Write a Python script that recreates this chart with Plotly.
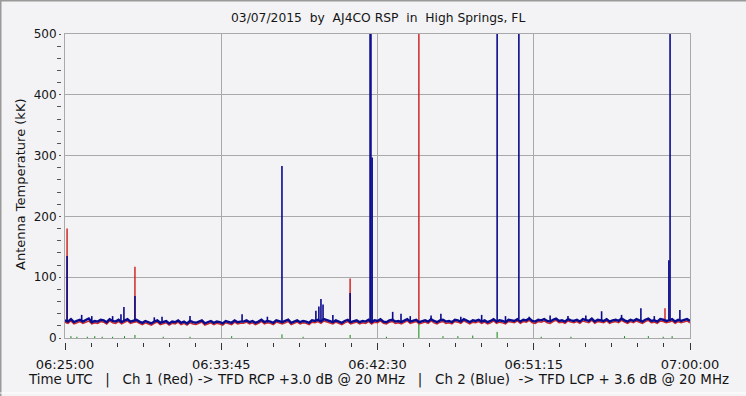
import plotly.graph_objects as go

# ---------------- data (seconds after 06:25:00 UTC) ----------------
tick_vals = [0, 525, 1050, 1575, 2100]
tick_text = ["06:25:00", "06:33:45", "06:42:30", "06:51:15", "07:00:00"]

# baseline, one value every 10 s (kK)
blue_base = [29,27,31,26,28,30,27,29,32,26,28,27,30,29,26,31,28,27,30,26,29,31,27,28,30,
             27,25,28,26,24,27,29,25,26,28,24,27,26,29,25,27,24,28,26,25,27,29,24,26,28,25,27,26,24,28,27,25,29,26,27,
             27,29,26,28,25,27,30,26,28,27,25,29,27,26,28,30,25,27,29,26,28,27,25,29,28,30,27,31,29,27,26,29,27,25,28,30,26,27,29,26,
             28,27,30,26,29,28,31,27,26,29,30,27,28,26,29,31,27,28,30,26,28,29,27,31,28,26,29,30,27,28,26,30,29,27,31,28,26,29,28,30,27,29,26,28,31,27,29,28,26,30,
             29,28,31,27,30,29,32,28,27,30,29,31,28,27,30,32,28,29,27,31,29,28,30,27,31,29,28,32,27,30,29,28,31,27,29,30,28,32,29,27,30,28,31,29,27,30,32,28,29,27,31,30,28,29,31,27,30,28,29,31,28]
red_base = [26,24,28,23,25,27,24,26,28,23,25,24,27,26,23,28,25,24,27,23,26,28,24,25,27,
            24,22,25,23,21,24,26,22,23,25,21,24,23,26,22,24,21,25,23,22,24,26,21,23,25,22,24,23,21,25,24,22,26,23,24,
            24,26,23,25,22,24,27,23,25,24,22,26,24,23,25,27,22,24,26,23,25,24,22,26,25,27,24,28,26,24,23,26,24,22,25,27,23,24,26,23,
            25,24,27,23,26,25,28,24,23,26,27,24,25,23,26,28,24,25,27,23,25,26,24,28,25,23,26,27,24,25,23,27,26,24,28,25,23,26,25,27,24,26,23,25,28,24,26,25,23,27,
            26,25,28,24,27,26,29,25,24,27,26,28,25,24,27,29,25,26,24,28,26,25,27,24,28,26,25,29,24,27,26,25,28,24,26,27,25,29,26,24,27,25,28,26,24,27,29,25,26,24,28,27,25,26,28,24,27,25,26,28,25]

# spikes: time (s) and peak value (kK); 520 = off scale
blue_spike_t = [7, 56, 90, 160, 188, 198, 235, 300, 326, 420, 595, 680, 729, 843, 853, 860, 867, 900, 958,
                1025, 1028, 1032, 1101, 1129, 1160, 1230, 1263, 1330, 1400, 1452, 1480, 1525, 1560, 1630, 1690,
                1750, 1803, 1870, 1935, 1980, 2029, 2033, 2066]
blue_spike_v = [135, 38, 36, 36, 39, 51, 69, 34, 35, 36, 39, 35, 283, 45, 52, 64, 55, 38, 74,
                520, 520, 297, 43, 40, 36, 37, 40, 35, 38, 520, 36, 520, 35, 37, 36,
                37, 44, 38, 49, 36, 128, 520, 46]
red_spike_t = [7, 235, 958, 1189, 2016]
red_spike_v = [180, 117, 98, 520, 49]

# green channel (small impulses above zero)
green_t = [20, 40, 75, 100, 125, 160, 200, 235, 330, 420, 560, 729, 800, 958, 1080, 1189, 1270, 1320, 1370, 1452, 1600, 1700, 1880, 1960, 2010, 2040]
green_v = [3, 2, 2, 3, 2, 2, 3, 5, 2, 2, 3, 6, 2, 5, 2, 23, 3, 3, 4, 10, 2, 2, 3, 3, 2, 3]


def impulses(base, st, sv):
    """vertical strokes from the local baseline level up to each spike peak"""
    xs, ys = [], []
    for ts, pv in zip(st, sv):
        i = min(range(len(base)), key=lambda k: abs(10 * k - ts))
        xs += [ts, ts, None]
        ys += [base[i], pv, None]
    return xs, ys


base_t = [10 * i for i in range(len(blue_base))]
red_t = [10 * i for i in range(len(red_base))]
bsx, bsy = impulses(blue_base, blue_spike_t, blue_spike_v)
rsx, rsy = impulses(red_base, red_spike_t, red_spike_v)
gx, gy = [], []
for t, h in zip(green_t, green_v):
    gx += [t, t, None]
    gy += [0, h, None]

# ---------------- layout helpers ----------------
W, H = 746, 396
ML, MR, MT, MB = 30, 56, 24, 40
PW, PH = W - ML - MR, H - MT - MB


def px(x):
    return (x - ML) / PW


def py(y):
    return (H - MB - y) / PH


BG = "#F3F3F5"
GRID = "#A9A9A9"
FONT = "DejaVu Sans, Verdana, sans-serif"
TXT = "#151515"
BLUE = "#0A0A8C"
RED = "#D02828"

fig = go.Figure()
fig.add_trace(go.Scatter(x=gx, y=gy, mode="lines", line=dict(color="#0A8A0A", width=1), hoverinfo="skip"))
fig.add_trace(go.Scatter(x=rsx, y=rsy, mode="lines", line=dict(color=RED, width=1.5), hoverinfo="skip"))
fig.add_trace(go.Scatter(x=red_t, y=red_base, mode="lines", line=dict(color=RED, width=1.4), hoverinfo="skip"))
fig.add_trace(go.Scatter(x=bsx, y=bsy, mode="lines", line=dict(color=BLUE, width=1.6), hoverinfo="skip"))
fig.add_trace(go.Scatter(x=base_t, y=blue_base, mode="lines", line=dict(color=BLUE, width=2.4), hoverinfo="skip"))
fig.add_trace(go.Scatter(x=[], y=[], xaxis="x2", yaxis="y2", hoverinfo="skip"))

xdom = [px(65), px(690)]
ydom = [py(338), py(34)]

fig.update_layout(
    width=W, height=H,
    margin=dict(l=ML, r=MR, t=MT, b=MB, autoexpand=False),
    paper_bgcolor=BG, plot_bgcolor=BG,
    showlegend=False,
    font=dict(family=FONT, size=12, color=TXT),
    xaxis=dict(domain=xdom, range=[0, 2100], tickvals=tick_vals, showticklabels=False, ticks="",
               showgrid=True, gridcolor=GRID, gridwidth=1, zeroline=False, automargin=False,
               showline=True, mirror=True, linecolor=GRID, linewidth=1),
    yaxis=dict(domain=ydom, range=[0, 500], tickvals=[0, 100, 200, 300, 400, 500], showticklabels=False, ticks="",
               showgrid=True, gridcolor=GRID, gridwidth=1, zeroline=False, automargin=False,
               showline=True, mirror=True, linecolor=GRID, linewidth=1),
    xaxis2=dict(overlaying="x", anchor="free", position=py(341.5), range=[0, 2100],
                tickmode="array", tickvals=tick_vals, ticktext=tick_text,
                ticks="outside", ticklen=7, tickcolor="#333333", tickwidth=1,
                ticklabelstandoff=4, automargin=False,
                minor=dict(dtick=87.5, tick0=0, ticks="outside", ticklen=4, tickcolor="#333333"),
                showgrid=False, zeroline=False, showline=False,
                tickfont=dict(family=FONT, size=13, color=TXT)),
    yaxis2=dict(overlaying="y", anchor="free", position=px(61), range=[0, 500],
                tickmode="linear", tick0=0, dtick=100, automargin=False,
                ticks="outside", ticklen=2, tickcolor="#555555",
                minor=dict(dtick=20, tick0=0, ticks="outside", ticklen=4, tickcolor="#555555"),
                showgrid=False, zeroline=False, showline=False,
                tickfont=dict(family=FONT, size=12, color=TXT)),
    annotations=[
        dict(text="03/07/2015\u00a0 by\u00a0 AJ4CO RSP\u00a0 in\u00a0 High Springs, FL",
             xref="paper", yref="paper", x=px(377.5), y=py(18), showarrow=False,
             xanchor="center", yanchor="middle", font=dict(family=FONT, size=12.3, color=TXT)),
        dict(text="Antenna Temperature (kK)", textangle=-90,
             xref="paper", yref="paper", x=px(20), y=py(185), showarrow=False,
             xanchor="center", yanchor="middle", font=dict(family=FONT, size=13, color=TXT)),
        dict(text="Time UTC\u00a0\u00a0 |\u00a0\u00a0 Ch 1 (Red) -> TFD RCP +3.0 dB @ 20 MHz\u00a0\u00a0 |\u00a0\u00a0 Ch 2 (Blue)\u00a0 -> TFD LCP + 3.6 dB @ 20 MHz",
             xref="paper", yref="paper", x=px(378.5), y=py(380), showarrow=False,
             xanchor="center", yanchor="middle", font=dict(family=FONT, size=13.4, color=TXT)),
    ],
    shapes=[
        dict(type="line", xref="paper", yref="paper", x0=px(0), x1=px(746), y0=py(0.5), y1=py(0.5),
             line=dict(color="#9A9A9A", width=2)),
        dict(type="line", xref="paper", yref="paper", x0=px(0.5), x1=px(0.5), y0=py(0), y1=py(396),
             line=dict(color="#9A9A9A", width=2)),
        dict(type="line", xref="paper", yref="paper", x0=px(0), x1=px(746), y0=py(393), y1=py(393),
             line=dict(color="#FFFFFF", width=1)),
    ],
)

fig.write_html("out.html")
